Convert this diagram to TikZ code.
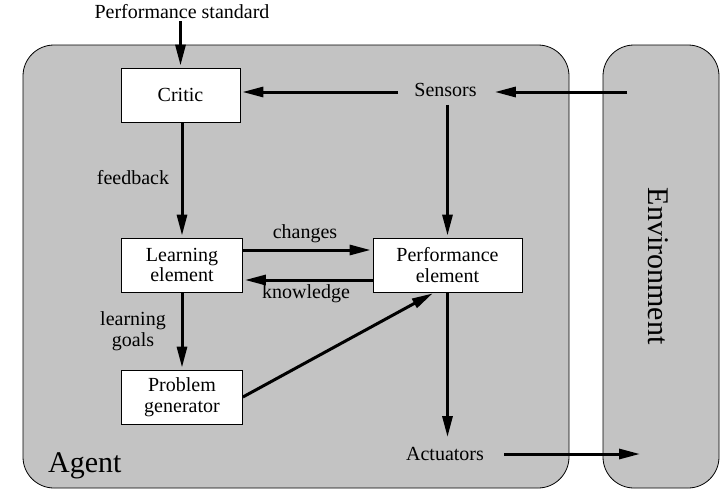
\documentclass[tikz,border=0pt]{standalone}
\usepackage{fontspec}
\setmainfont{Liberation Serif}
\usetikzlibrary{arrows.meta}
\definecolor{panelgray}{RGB}{195,195,195}
\tikzset{
  panel/.style={draw=black, line width=0.8pt, fill=panelgray, rounded corners=31pt},
  box/.style={draw=black, line width=0.8pt, fill=white, align=center, inner sep=0pt,
    minimum width=121pt, minimum height=54pt, font=\fontsize{20}{20.5}\selectfont},
  lbl/.style={align=center, inner sep=0pt, font=\fontsize{20}{20.5}\selectfont},
  port/.style={lbl, inner xsep=17pt, inner ysep=8pt},
  big/.style={inner sep=0pt, font=\fontsize{30}{32}\selectfont},
  arr/.style={line width=3pt, -{Triangle[length=21pt,width=10pt]}, shorten >=2pt},
}
\begin{document}
\begin{tikzpicture}[x=1pt,y=-1pt]
\useasboundingbox (0,0) rectangle (726,490);
% panels
\draw[panel] (23,45) rectangle (569,488);
\draw[panel] (603,45) rectangle (719,488);
% labels of panels
\node[big, anchor=base west] (agent) at (48,472) {Agent};
\node[big, rotate=-90] (env) at (658,266) {Environment};
% boxes
\node[box, minimum width=119pt] (critic) at (180.5,95) {Critic};
\node[box] (learn) at (182,265) {Learning\\element};
\node[box, minimum width=149pt] (perf) at (447.5,265) {Performance\\element};
\node[box] (prob) at (182,397) {Problem\\generator};
% text nodes
\node[lbl, inner ysep=2pt] (std) at (182,12) {Performance standard};
\node[port, inner xsep=16pt] (sens) at (445.5,90) {Sensors};
\node[port, inner xsep=20pt] (act) at (445,454) {Actuators};
\coordinate (envout) at (627,92);
\coordinate (envin) at (640,454);
% edge labels
\node[lbl] (fb) at (133,178) {feedback};
\node[lbl] (ch) at (305,234) {changes};
\node[lbl] (kn) at (306,294) {knowledge};
\node[lbl] (lg) at (133,331) {learning\\goals};
% connectors
\draw[arr] (std.south -| critic.north) -- (critic.north);
\draw[arr] (envout) -- (envout -| sens.east);
\draw[arr] (sens.west |- envout) -- (envout -| critic.east);
\draw[arr] (sens.south -| perf.north) -- (perf.north);
\draw[arr] (critic.south -| learn.north) -- (learn.north);
\draw[arr] ([yshift=15pt]learn.east) -- ([yshift=15pt]perf.west);
\draw[arr] ([yshift=-15pt]perf.west) -- ([yshift=-15pt]learn.east);
\draw[arr] (learn.south) -- (prob.north);
\draw[arr] (prob.east) -- ([xshift=-13pt]perf.south);
\draw[arr] (perf.south) -- (perf.south |- act.north);
\draw[arr, shorten >=0pt] (act.east) -- (envin);
\end{tikzpicture}
\end{document}
